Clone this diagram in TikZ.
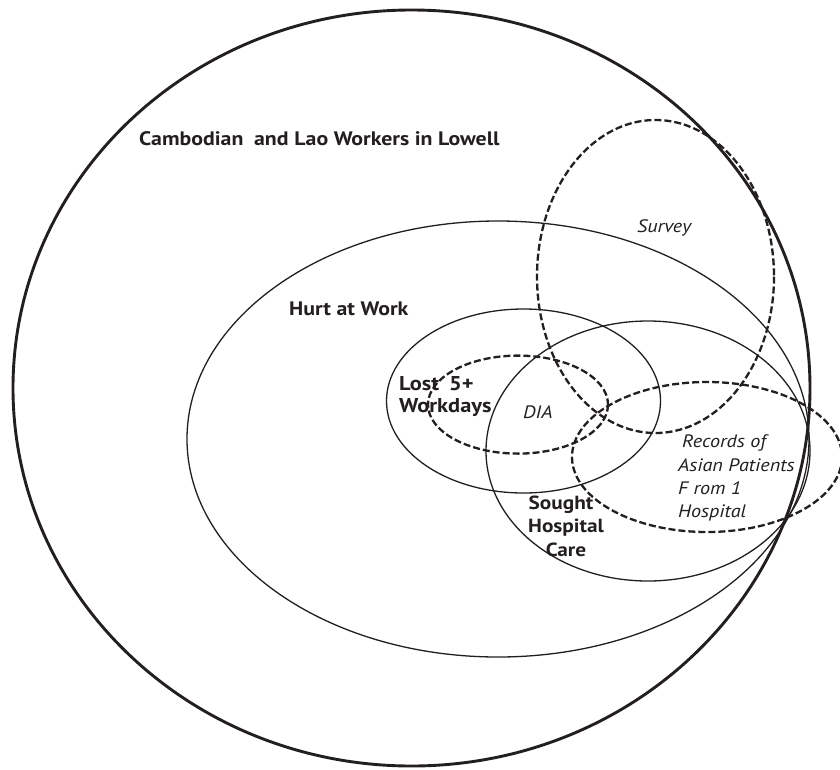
\documentclass[tikz,border=0pt]{standalone}
\usepackage{fontspec}
\setmainfont{PT Sans}[FakeStretch=1.12]
\definecolor{ink}{HTML}{231F20}
\begin{document}
\begin{tikzpicture}[x=1pt,y=-1pt,
  thickring/.style={draw=ink,line width=2.9pt},
  ring/.style={draw=ink,line width=1.3pt},
  dashring/.style={draw=ink,line width=2.3pt,dash pattern=on 7pt off 3pt},
  bigbold/.style={text=ink,inner sep=0pt,anchor=base west,font=\bfseries\fontsize{19.5}{19.5}\selectfont},
  boldlbl/.style={text=ink,inner sep=0pt,font=\bfseries\fontsize{19}{19}\selectfont},
  lostlbl/.style={text=ink,inner sep=0pt,anchor=base west,font=\bfseries\fontsize{20}{20}\selectfont},
  itlbl/.style={text=ink,inner sep=0pt,anchor=base west,font=\itshape\fontsize{18}{18}\selectfont}]
\useasboundingbox (0,0) rectangle (840,769);
\fill[white] (0,0) rectangle (840,769);
% solid sets
\draw[thickring] (411.5,388) ellipse [x radius=398.5, y radius=378];
\draw[ring] (498,439) ellipse [x radius=311, y radius=218];
\draw[ring] (523.5,401) ellipse [x radius=137, y radius=92];
\draw[ring] (648,451) ellipse [x radius=162, y radius=130];
% dashed data sources
\draw[dashring] (655.5,276.5) ellipse [x radius=118.5, y radius=156.5];
\draw[dashring] (518,404.6) ellipse [x radius=90, y radius=49];
\draw[dashring] (707,457) ellipse [x radius=135, y radius=75];
% labels
\node[bigbold] (cam) at (139,145) {Cambodian\hspace{0.55em}and\hspace{0.3em}Lao Workers in Lowell};
\node[bigbold] (hurt) at (289,315) {Hurt at Work};
\node[lostlbl] (lost1) at (399,390) {Lost\hspace{0.5em}5+};
\node[lostlbl] (lost2) at (399,412) {Workdays};
\node[boldlbl,anchor=base] (sou1) at (561,509) {Sought};
\node[boldlbl,anchor=base] (sou2) at (566,532) {Hospital};
\node[boldlbl,anchor=base] (sou3) at (566,556) {Care};
\node[itlbl] (survey) at (637,232) {Survey};
\node[itlbl] (dia) at (523,418) {DIA};
\node[itlbl] (rec1) at (682,447) {Records of};
\node[itlbl] (rec2) at (678,471) {Asian Patients};
\node[itlbl] (rec3) at (678,494) {F rom 1};
\node[itlbl] (rec4) at (678,517) {Hospital};
\end{tikzpicture}
\end{document}
